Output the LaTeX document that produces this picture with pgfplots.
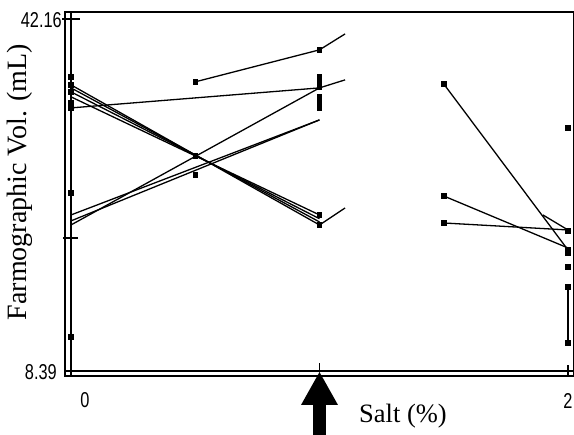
\documentclass[border=0pt]{standalone}
\usepackage{pgfplots}
\pgfplotsset{compat=1.18}
\usepackage{fontspec}
\setmainfont{Liberation Serif}
\newfontfamily\ticksf[FakeStretch=0.76]{Liberation Sans}
\begin{document}
\begin{tikzpicture}
\path[use as bounding box] (-65pt,-59pt) rectangle (509pt,376pt);
\begin{axis}[at={(0,0)}, anchor=south west, scale only axis,
  width=509pt, height=364pt,
  xmin=-0.02414, xmax=2.0241, ymin=7.910, ymax=42.832,
  xtick=\empty, ytick=\empty, clip=false,
  axis line style={line width=1.3pt},
  every axis plot/.append style={black, line width=1.3pt}]
% inner reference lines
\draw[line width=1.5pt] (axis cs:0,7.910) -- (axis cs:0,42.832);
\draw[line width=1.3pt] (axis cs:-0.02414,8.39) -- (axis cs:2.0241,8.39);
% ticks
\draw[line width=1.2pt] (axis cs:-0.036,42.16) -- (axis cs:0.036,42.16);
\draw[line width=1.2pt] (axis cs:-0.032,21.15) -- (axis cs:0.028,21.15);
\draw[line width=1.2pt] (axis cs:1,8.39) -- (axis cs:1,9.16);
\draw[line width=1.2pt] (axis cs:2,7.91) -- (axis cs:2,8.97);
% segments
\addplot[no marks] coordinates {(0.5,36.13) (1,39.20) (1.103,40.73)};
\addplot[no marks] coordinates {(0,33.63) (1,35.55)};
\addplot[no marks] coordinates {(0,35.84) (1,22.40) (1.103,24.03)};
\addplot[no marks] coordinates {(0,35.55) (1,22.69)};
\addplot[no marks] coordinates {(0,35.17) (1,23.00)};
\addplot[no marks] coordinates {(0,34.69) (1,23.36)};
\addplot[no marks] coordinates {(0,22.40) (1,35.55) (1.103,36.32)};
\addplot[no marks] coordinates {(0,23.36) (1,32.48)};
\addplot[no marks] coordinates {(0,22.79) (1,32.48)};
\addplot[no marks] coordinates {(1.5,35.93) (2,20.00)};
\addplot[no marks] coordinates {(1.5,25.18) (2,20.19)};
\addplot[no marks] coordinates {(1.5,22.59) (2,21.92)};
\addplot[no marks] coordinates {(1.899,23.36) (2,21.92)};
\addplot[no marks] coordinates {(2,16.45) (2,11.08)};
% markers
\addplot[only marks, mark=square*, mark size=2.1pt] coordinates {
(0,36.60) (0,35.84) (0,35.17) (0,34.11) (0,33.63) (0,25.47) (0,11.65)
(0.5,36.13) (0.5,29.02) (0.5,27.20)
(1,39.20) (1,36.60) (1,36.13) (1,35.65) (1,34.69) (1,34.11) (1,33.63) (1,23.36) (1,22.40)
(1.5,35.93) (1.5,25.18) (1.5,22.59)
(2,31.71) (2,21.83) (2,20.00) (2,19.71) (2,18.37) (2,16.45) (2,11.08)};
% labels
\node[font=\ticksf\fontsize{21.5}{24}\selectfont, anchor=east, inner sep=1pt] at (axis cs:-0.0322,42.07) {42.16};
\node[font=\ticksf\fontsize{21.5}{24}\selectfont, anchor=east, inner sep=1pt] at (axis cs:-0.0523,8.29) {8.39};
\node[font=\ticksf\fontsize{21.5}{24}\selectfont] at (axis cs:0.0563,5.61) {0};
\node[font=\ticksf\fontsize{21.5}{24}\selectfont] at (axis cs:2.0,5.51) {2};
\node[font=\fontsize{28}{30}\selectfont, rotate=90] at (axis cs:-0.205,26.52) {Farmographic Vol. (mL)};
\node[font=\fontsize{26.5}{29}\selectfont] at (axis cs:1.336,4.07) {Salt (\%)};
% arrow
\fill (axis cs:1.0,8.29) -- (axis cs:1.0744,5.13) -- (axis cs:1.026,5.13) -- (axis cs:1.026,2.2) -- (axis cs:0.974,2.2) -- (axis cs:0.974,5.13) -- (axis cs:0.9256,5.13) -- cycle;
\end{axis}
\end{tikzpicture}
\end{document}
